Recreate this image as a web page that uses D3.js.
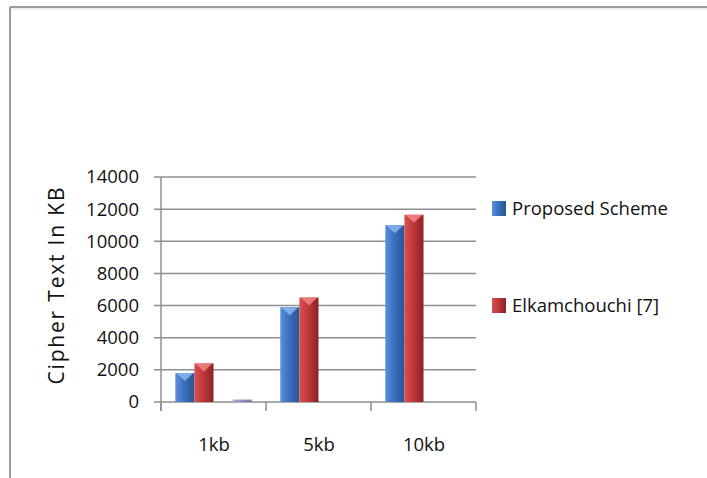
<!DOCTYPE html>
<html lang="en">
<head>
    <meta charset="UTF-8">
    <title>Cipher Text Size</title>
    <script src="https://d3js.org/d3.v7.min.js"></script>
    <style>
        body { margin: 0; background: #fff; }
        text { font-family: "Open Sans", "Liberation Sans", sans-serif; fill: #111; }
    </style>
</head>
<body>
    <svg id="chart" width="707" height="478"></svg>
    <script>
        // data
        const categories = ["1kb", "5kb", "10kb"];
        const seriesNames = ["Proposed Scheme", "Elkamchouchi [7]", "Series3", "Series4"];
        const proposed = [1800, 5900, 11000];
        const elkamchouchi = [2400, 6500, 11650];
        const series3 = [0, 0, 0];
        const series4 = [150, 0, 0];
        const yTicks = [0, 2000, 4000, 6000, 8000, 10000, 12000, 14000];
        const legendNames = ["Proposed Scheme", "Elkamchouchi [7]"];

        const values = [proposed, elkamchouchi, series3, series4];
        const colors = [
            { light: "#5a8fd8", mid: "#3a70c0", dark: "#2a558f", top: "#8ab8f0" },
            { light: "#d85050", mid: "#c0383a", dark: "#8a2224", top: "#f28585" },
            { light: "#9bbb59", mid: "#9bbb59", dark: "#7a9a40", top: "#bcd88a" },
            { light: "#b3a2d0", mid: "#9f8cc4", dark: "#8370ab", top: "#cdbfe6" }
        ];

        const svg = d3.select("#chart");
        const plot = { left: 161, right: 476, top: 177, bottom: 402 };

        // outer frame (top and left edges only are visible)
        svg.append("line").attr("x1", 10).attr("y1", 7).attr("x2", 707).attr("y2", 7)
            .attr("stroke", "#9a9a9a").attr("stroke-width", 2);
        svg.append("line").attr("x1", 10).attr("y1", 9).attr("x2", 707).attr("y2", 9)
            .attr("stroke", "#dedede").attr("stroke-width", 1);
        svg.append("line").attr("x1", 10).attr("y1", 7).attr("x2", 10).attr("y2", 478)
            .attr("stroke", "#9a9a9a").attr("stroke-width", 2);

        const x = d3.scaleBand().domain(categories).range([plot.left, plot.right]).padding(0);
        const xs = d3.scaleBand().domain(seriesNames).range([0, x.bandwidth()])
            .paddingInner(0).paddingOuter(0.75);
        const y = d3.scaleLinear().domain([0, 14000]).range([plot.bottom, plot.top]);

        // gradients
        const defs = svg.append("defs");
        colors.forEach((c, i) => {
            const g = defs.append("linearGradient").attr("id", "grad" + i)
                .attr("x1", "0").attr("y1", "0").attr("x2", "1").attr("y2", "0");
            g.append("stop").attr("offset", "0%").attr("stop-color", c.light);
            g.append("stop").attr("offset", "45%").attr("stop-color", c.mid);
            g.append("stop").attr("offset", "100%").attr("stop-color", c.dark);
        });

        // gridlines
        svg.append("g").selectAll("line").data(yTicks).enter().append("line")
            .attr("x1", plot.left - 7).attr("x2", plot.right)
            .attr("y1", d => y(d)).attr("y2", d => y(d))
            .attr("stroke", "#8f8f8f").attr("stroke-width", 1.5);

        // y axis line
        svg.append("line").attr("x1", plot.left).attr("x2", plot.left)
            .attr("y1", y(14000)).attr("y2", plot.bottom + 9)
            .attr("stroke", "#8f8f8f").attr("stroke-width", 1.5);

        // category ticks
        const catEdges = categories.map(c => x(c) + x.bandwidth()).concat([plot.left]);
        svg.append("g").selectAll("line").data(catEdges).enter().append("line")
            .attr("x1", d => d).attr("x2", d => d)
            .attr("y1", plot.bottom).attr("y2", plot.bottom + 9)
            .attr("stroke", "#8f8f8f").attr("stroke-width", 1.5);

        // bars
        const barData = [];
        values.forEach((vals, si) => {
            vals.forEach((v, ci) => {
                if (v > 0) barData.push({ s: si, c: categories[ci], v: v });
            });
        });

        const bars = svg.append("g").selectAll("g").data(barData).enter().append("g");
        bars.append("rect")
            .attr("x", d => x(d.c) + xs(seriesNames[d.s]))
            .attr("y", d => y(d.v))
            .attr("width", xs.bandwidth())
            .attr("height", d => plot.bottom - y(d.v))
            .attr("fill", d => "url(#grad" + d.s + ")");
        // bevel on top of each bar
        bars.filter(d => plot.bottom - y(d.v) > 10).append("polygon")
            .attr("points", d => {
                const x0 = x(d.c) + xs(seriesNames[d.s]);
                const w = xs.bandwidth();
                const t = y(d.v);
                return [[x0 + 1, t], [x0 + w - 1, t], [x0 + w / 2, t + 8]].map(p => p.join(",")).join(" ");
            })
            .attr("fill", d => colors[d.s].top)
            .attr("opacity", 0.85);

        // y tick labels
        svg.append("g").selectAll("text").data(yTicks).enter().append("text")
            .attr("x", 139).attr("y", d => y(d))
            .attr("dy", "0.35em")
            .attr("text-anchor", "end")
            .style("font-size", "18.5px")
            .text(d => d);

        // x labels
        svg.append("g").selectAll("text").data(categories).enter().append("text")
            .attr("x", d => x(d) + x.bandwidth() / 2 + 0.5)
            .attr("y", 451)
            .attr("text-anchor", "middle")
            .style("font-size", "18.5px")
            .text(d => d);

        // y axis title
        svg.append("text")
            .attr("transform", "translate(64,286) rotate(-90)")
            .attr("text-anchor", "middle")
            .attr("textLength", 197)
            .attr("lengthAdjust", "spacing")
            .style("font-size", "21px")
            .text("Cipher Text In KB");

        // legend
        const legendY = [201, 298];
        const legend = svg.append("g").selectAll("g").data(legendNames).enter().append("g");
        legend.append("rect")
            .attr("x", 492).attr("y", (d, i) => legendY[i])
            .attr("width", 14).attr("height", 15)
            .attr("fill", (d, i) => "url(#grad" + i + ")");
        legend.append("text")
            .attr("x", 512).attr("y", (d, i) => legendY[i] + 8)
            .attr("dy", "0.35em")
            .style("font-size", "18.5px")
            .text(d => d);
    </script>
</body>
</html>
